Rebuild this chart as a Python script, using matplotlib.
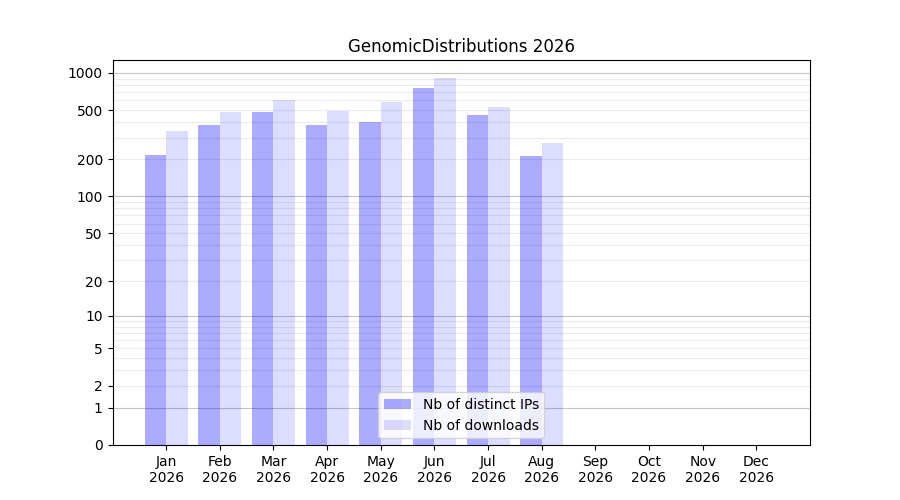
import numpy as np
import matplotlib
matplotlib.use("Agg")
import matplotlib.pyplot as plt

months = ["Jan", "Feb", "Mar", "Apr", "May", "Jun", "Jul", "Aug", "Sep", "Oct", "Nov", "Dec"]
year = "2026"
distinct_ips = [216, 379, 484, 379, 401, 759, 457, 212]
downloads = [339, 484, 606, 493, 584, 915, 531, 271]
ytick_values = [0, 1, 2, 5, 10, 20, 50, 100, 200, 500, 1000]

fwd = lambda v: np.log10(1 + np.clip(v, 0, None))
inv = lambda v: 10 ** v - 1

fig, ax = plt.subplots(figsize=(9, 5), dpi=100)
ax.set_yscale("function", functions=(fwd, inv))

# grid lines
for dec in [1, 10, 100]:
    for m in range(2, 10):
        ax.axhline(dec * m, color="#ebebeb", lw=0.8, zorder=0)
for v in [1, 10, 100, 1000]:
    ax.axhline(v, color="#c4c4c4", lw=0.8, zorder=0)

x_ips = np.arange(1, len(distinct_ips) + 1)
x_dl = np.arange(1, len(downloads) + 1)
ax.bar(x_ips - 0.2, distinct_ips, width=0.4, color="blue", alpha=0.33,
       label="Nb of distinct IPs", zorder=2)
ax.bar(x_dl + 0.2, downloads, width=0.4, color="blue", alpha=0.133,
       label="Nb of downloads", zorder=2)

ax.set_xlim(0, 13)
ax.set_ylim(0, 1270)
ax.set_xticks(np.arange(1, 13))
ax.set_xticklabels([f"{m}\n{year}" for m in months])
ax.set_yticks(ytick_values)
ax.set_yticklabels([str(v) for v in ytick_values])
ax.yaxis.set_minor_locator(matplotlib.ticker.NullLocator())
ax.set_title("GenomicDistributions 2026")
ax.legend(loc="lower center")

fig.savefig("out.png", dpi=100)
